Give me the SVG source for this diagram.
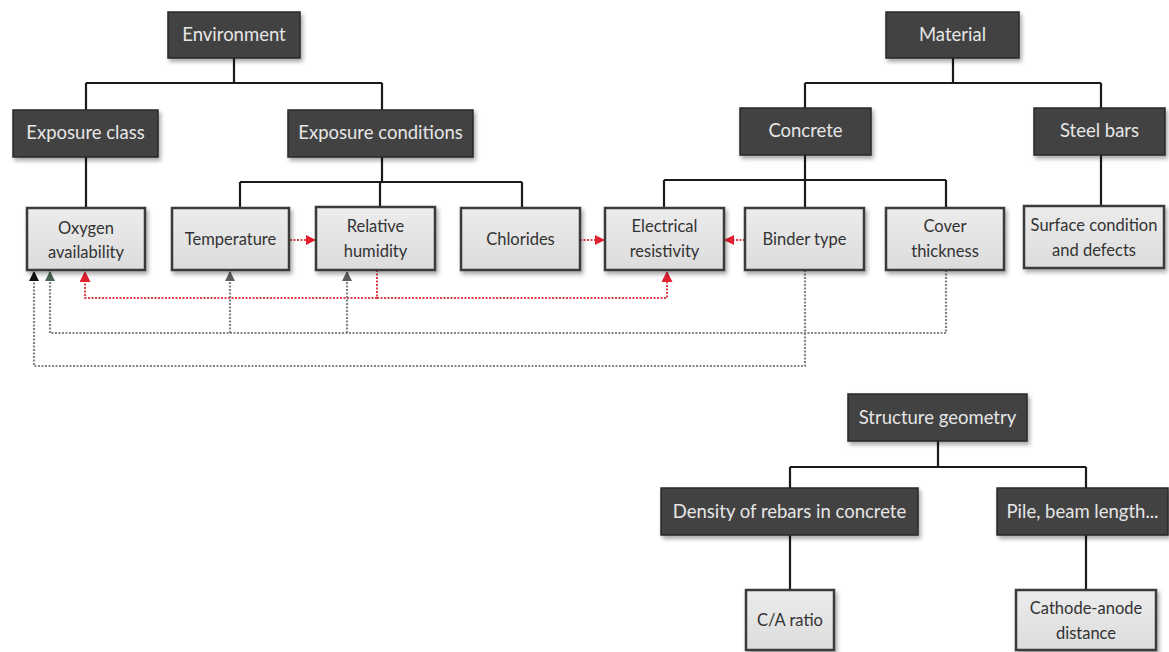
<svg xmlns="http://www.w3.org/2000/svg" width="1169" height="652" viewBox="0 0 1169 652">
<defs>
<filter id="sh" x="-10%" y="-10%" width="130%" height="140%"><feDropShadow dx="2" dy="3" stdDeviation="2" flood-color="#000" flood-opacity="0.35"/></filter>
<linearGradient id="lg" x1="0" y1="0" x2="0" y2="1"><stop offset="0" stop-color="#ececec"/><stop offset="1" stop-color="#dcdcdc"/></linearGradient>
<marker id="aRed" markerWidth="10" markerHeight="10" refX="9" refY="5" orient="auto" markerUnits="userSpaceOnUse"><path d="M0,0 L10,5 L0,10 Z" fill="#e02030"/></marker>
<marker id="aBlk" markerWidth="10" markerHeight="10" refX="9" refY="5" orient="auto" markerUnits="userSpaceOnUse"><path d="M0,0 L10,5 L0,10 Z" fill="#111"/></marker>
<marker id="aGrn" markerWidth="10" markerHeight="10" refX="9" refY="5" orient="auto" markerUnits="userSpaceOnUse"><path d="M0,0 L10,5 L0,10 Z" fill="#4c6552"/></marker>
<marker id="aGry" markerWidth="10" markerHeight="10" refX="9" refY="5" orient="auto" markerUnits="userSpaceOnUse"><path d="M0,0 L10,5 L0,10 Z" fill="#5e5e5e"/></marker>
<marker id="aRedB" markerWidth="11" markerHeight="11" refX="10" refY="5.5" orient="auto" markerUnits="userSpaceOnUse"><path d="M0,0 L11,5.5 L0,11 Z" fill="#e02030"/></marker>
</defs>
<style>
.dk{fill:#424242;stroke:#2a2a2a;stroke-width:1.5;filter:url(#sh)}
.lt{fill:url(#lg);stroke:#3a3a3a;stroke-width:2.5;filter:url(#sh)}
.dt{fill:#e6e6e6;font-family:Lato,"Liberation Sans",sans-serif;font-size:18.5px;text-anchor:middle}
.ltx{fill:#333;font-family:Lato,"Liberation Sans",sans-serif;font-size:16.5px;text-anchor:middle}
.ln{fill:none;stroke:#1a1a1a;stroke-width:2.2}
.red{fill:none;stroke:#e0404a;stroke-width:2;stroke-dasharray:2,1.5}
.gry{fill:none;stroke:#858585;stroke-width:2.2;stroke-dasharray:2,1.5}
</style>
<rect width="1169" height="652" fill="#ffffff"/>
<g id="connectors">
<path class="ln" d="M234,58 V83 M86,83 H382 M86,83 V110 M382,83 V110"/>
<path class="ln" d="M86,157 V208 M382,157 V182 M240,182 H522 M240,182 V208 M380,182 V207 M522,182 V208"/>
<path class="ln" d="M953,58 V83 M805,83 H1101 M805,83 V108 M1101,83 V108"/>
<path class="ln" d="M805,155 V208 M664,180 H946 M664,180 V208 M946,180 V208 M1101,155 V206"/>
<path class="ln" d="M938,441 V467 M790,467 H1086 M790,467 V488 M1086,467 V488 M790,535 V590 M1086,535 V590"/>
<path class="red" d="M290,240 H315" marker-end="url(#aRed)"/>
<path class="red" d="M580,240 H604" marker-end="url(#aRed)"/>
<path class="red" d="M745,240 H725" marker-end="url(#aRed)"/>
<path class="red" d="M377,270 V298 H85 V272" marker-end="url(#aRedB)"/>
<path class="red" d="M377,298 H667 V272" marker-end="url(#aRedB)"/>
<path class="gry" d="M946,270 V333 H50 V272" marker-end="url(#aGrn)"/>
<path class="gry" d="M230,333 V272" marker-end="url(#aGry)"/>
<path class="gry" d="M347,333 V272" marker-end="url(#aGry)"/>
<path class="gry" d="M805,270 V366 H34 V272" marker-end="url(#aBlk)"/>
</g>
<g id="environment"><rect class="dk" x="168" y="12" width="132" height="46"/><text class="dt" x="234" y="41">Environment</text></g>
<g id="exposure-class"><rect class="dk" x="13" y="110" width="145" height="47"/><text class="dt" x="85.5" y="139">Exposure class</text></g>
<g id="exposure-conditions"><rect class="dk" x="288" y="110" width="185" height="47"/><text class="dt" x="380.5" y="139">Exposure conditions</text></g>
<g id="material"><rect class="dk" x="886" y="12" width="133" height="46"/><text class="dt" x="952.5" y="41">Material</text></g>
<g id="concrete"><rect class="dk" x="740" y="108" width="131" height="47"/><text class="dt" x="805.5" y="137">Concrete</text></g>
<g id="steel-bars"><rect class="dk" x="1034" y="108" width="131" height="47"/><text class="dt" x="1099.5" y="137">Steel bars</text></g>
<g id="oxygen"><rect class="lt" x="27" y="208" width="118" height="62"/><text class="ltx" x="86" y="234">Oxygen</text><text class="ltx" x="86" y="258">availability</text></g>
<g id="temperature"><rect class="lt" x="172" y="208" width="117" height="62"/><text class="ltx" x="230.5" y="245">Temperature</text></g>
<g id="humidity"><rect class="lt" x="316" y="207" width="119" height="63"/><text class="ltx" x="375.5" y="232">Relative</text><text class="ltx" x="375.5" y="257">humidity</text></g>
<g id="chlorides"><rect class="lt" x="461" y="208" width="119" height="62"/><text class="ltx" x="520.5" y="245">Chlorides</text></g>
<g id="resistivity"><rect class="lt" x="605" y="208" width="119" height="62"/><text class="ltx" x="664.5" y="232">Electrical</text><text class="ltx" x="664.5" y="257">resistivity</text></g>
<g id="binder"><rect class="lt" x="745" y="208" width="119" height="62"/><text class="ltx" x="804.5" y="245">Binder type</text></g>
<g id="cover"><rect class="lt" x="886" y="208" width="118" height="62"/><text class="ltx" x="945" y="232">Cover</text><text class="ltx" x="945" y="257">thickness</text></g>
<g id="surface"><rect class="lt" x="1024" y="206" width="140" height="62"/><text class="ltx" x="1094" y="231">Surface condition</text><text class="ltx" x="1094" y="256">and defects</text></g>
<g id="structure-geometry"><rect class="dk" x="848" y="394" width="179" height="47"/><text class="dt" x="937.5" y="424">Structure geometry</text></g>
<g id="density"><rect class="dk" x="661" y="488" width="257" height="47"/><text class="dt" x="789.5" y="518">Density of rebars in concrete</text></g>
<g id="pile"><rect class="dk" x="997" y="488" width="171" height="47"/><text class="dt" x="1082.5" y="518">Pile, beam length...</text></g>
<g id="ca-ratio"><rect class="lt" x="746" y="590" width="88" height="60"/><text class="ltx" x="790" y="626">C/A ratio</text></g>
<g id="cathode-anode"><rect class="lt" x="1016" y="590" width="140" height="60"/><text class="ltx" x="1086" y="614">Cathode-anode</text><text class="ltx" x="1086" y="639">distance</text></g>
</svg>
